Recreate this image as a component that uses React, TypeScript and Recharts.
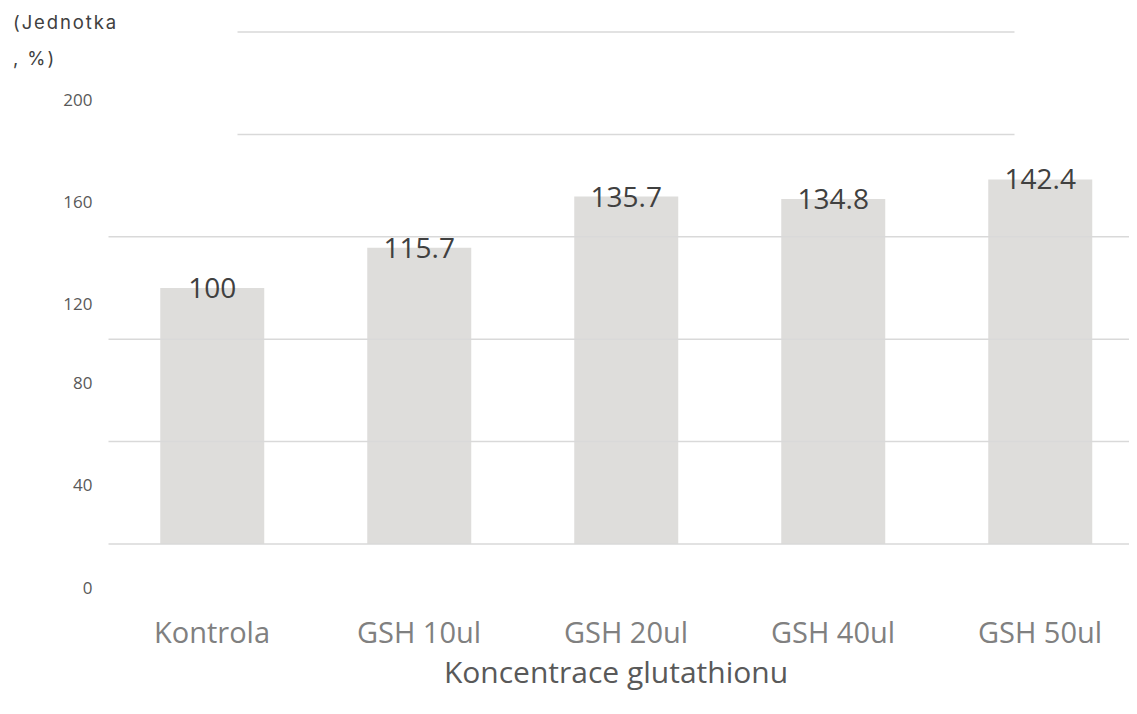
import React from "react";
import { BarChart, Bar, XAxis, YAxis, ReferenceLine, LabelList } from "recharts";

const categories = ["Kontrola", "GSH 10ul", "GSH 20ul", "GSH 40ul", "GSH 50ul"];
const values = [100, 115.7, 135.7, 134.8, 142.4];
const yTicks = [0, 40, 80, 120, 160, 200];
const shortGridValues = [160, 200];
const xTitle = "Koncentrace glutathionu";
const yTitleLines = ["(Jednotka", ", %)"];

const data = categories.map((c, i) => ({ name: c, value: values[i] }));

const FONT = "'Open Sans', sans-serif";

const YTick = (props: any) => {
  const { x, y, payload } = props;
  const off = payload.value >= 120 ? 67.5 : 43.5;
  return (
    <text x={x} y={y + off + 6} textAnchor="end" fontFamily={FONT} fontSize={17} fill="#595959">
      {payload.value}
    </text>
  );
};

const XTick = (props: any) => {
  const { x, y, payload } = props;
  return (
    <text x={x} y={y} dy={90.5} textAnchor="middle" fontFamily={FONT} fontSize={29} fill="#808080">
      {payload.value}
    </text>
  );
};

const GridShape = (short: boolean) => (props: any) => {
  const { x1, x2, y1, y2 } = props;
  const inset = short ? 129 : 0;
  return <line x1={x1 + inset} x2={x2 - inset} y1={y1} y2={y2} stroke="#d9d9d9" strokeWidth={1.5} />;
};

const BarLabel = (props: any) => {
  const { x, y, width, value } = props;
  return (
    <text x={x + width / 2} y={y} dy={10} textAnchor="middle" fontFamily={FONT} fontSize={28} fill="#404040">
      {value}
    </text>
  );
};

export default function App() {
  return (
    <div style={{ width: 1129, height: 706, overflow: "hidden" }}>
      <BarChart
        width={1140}
        height={706}
        data={data}
        margin={{ top: 24, right: 4.5, bottom: 0, left: 0.5 }}
        barCategoryGap="25%"
      >
        <XAxis
          dataKey="name"
          axisLine={false}
          tickLine={false}
          height={170}
          tick={<XTick />}
          interval={0}
          label={{
            content: (p: any) => {
              const vb = p.viewBox;
              return (
                <text
                  x={vb.x + vb.width / 2 - 10}
                  y={vb.y + 139}
                  textAnchor="middle"
                  fontFamily={FONT}
                  fontSize={30}
                  fill="#595959"
                >
                  {xTitle}
                </text>
              );
            },
          }}
        />
        <YAxis
          width={100}
          domain={[0, 200]}
          ticks={yTicks}
          axisLine={false}
          tickLine={false}
          tickMargin={10}
          tick={<YTick />}
          label={{
            content: () => (
              <text fontFamily="Inter, sans-serif" fontSize={18.5} letterSpacing={1.9} fill="#404040">
                <tspan x={5} y={21}>{yTitleLines[0]}</tspan>
                <tspan x={5} y={57}>{yTitleLines[1]}</tspan>
              </text>
            ),
          }}
        />
        {yTicks.map((v) => (
          <ReferenceLine key={v} y={v} shape={GridShape(shortGridValues.includes(v))} />
        ))}
        <Bar dataKey="value" fill="#dedddb" isAnimationActive={false}>
          <LabelList dataKey="value" content={<BarLabel />} />
        </Bar>
      </BarChart>
    </div>
  );
}
